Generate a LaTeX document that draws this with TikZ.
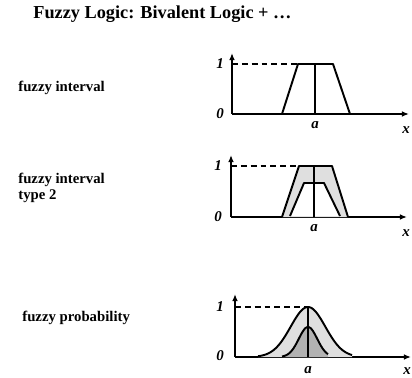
\documentclass[tikz,border=0pt]{standalone}
\usepackage{fontspec}
\setmainfont{Liberation Serif}
\usetikzlibrary{arrows.meta}

\begin{document}
\begin{tikzpicture}[
    x=0.02cm, y=-0.02cm,
    titel/.style={
        anchor=west,
        inner sep=0pt,
        font=\fontsize{10.4}{12}\selectfont\bfseries
    },
    etikett/.style={
        anchor=west,
        inner sep=0pt,
        align=left,
        font=\fontsize{8.4}{9.2}\selectfont\bfseries
    },
    wert/.style={
        inner sep=0pt,
        font=\fontsize{8.5}{9}\selectfont\bfseries\itshape
    },
    achse/.style={
        -{Latex[length=4pt,width=3.2pt]},
        line width=0.9pt
    },
    strich/.style={
        line width=0.8pt,
        dash pattern=on 3.4pt off 2.2pt
    },
    kurve/.style={
        line width=1.1pt,
        line join=round
    }
]
\useasboundingbox (0,0) rectangle (412,378);

\node[titel] (titel) at (33,14) {Fuzzy Logic: Bivalent Logic + \ldots};

% fuzzy interval
\node[etikett] (intervall) at (18,88) {fuzzy interval};
\coordinate (o1) at (232,114);
\draw[achse] (o1) -- (232,53);
\draw[achse] (o1) -- (409,114);
\draw[strich] (232,64) -- (298,64);
\draw[kurve] (282,114) -- (298,64) -- (333,64) -- (350,114);
\draw[kurve] (315,114) -- (315,64);
\node[wert] (eins1) at (220,64) {1};
\node[wert] (null1) at (220,114) {0};
\node[wert] (a1) at (315,125) {a};
\node[wert] (x1) at (406,130) {x};

% fuzzy interval type 2
\node[etikett] (typ2) at (18,188) {fuzzy interval\\type 2};
\coordinate (o2) at (231,217);
\draw[achse] (o2) -- (407,217);
\draw[achse] (o2) -- (231,155);
\draw[strich] (231,166) -- (299,166);
\fill[gray!25] (282,217) -- (299,166) -- (332,166) -- (348,217) -- cycle;
\fill[white] (290,216) -- (304,183) -- (324,183) -- (340,216) -- cycle;
\draw[kurve] (282,217) -- (299,166) -- (332,166) -- (348,217);
\draw[kurve] (290,216) -- (304,183) -- (324,183) -- (340,216);
\draw[kurve] (314,217) -- (314,166);
\node[wert] (eins2) at (218,166) {1};
\node[wert] (null2) at (218,217) {0};
\node[wert] (a2) at (314,228) {a};
\node[wert] (x2) at (406,233) {x};

% fuzzy probability
\node[etikett] (wahrsch) at (22,318) {fuzzy probability};
\coordinate (o3) at (235,357);
\draw[achse] (o3) -- (235,294);
\draw[achse] (o3) -- (411,357);
\draw[strich] (235,307) -- (308,307);
\fill[gray!25] (258,357) -- plot[domain=-50:44, samples=60, smooth]
    ({308+\x}, {357-50*exp(-(\x)*(\x)/600)}) -- (352,357) -- cycle;
\fill[gray!60] (282,357) -- plot[domain=-26:20, samples=40, smooth]
    ({308+\x}, {357-30*exp(-(\x)*(\x)/170)}) -- (328,357) -- cycle;
\draw[kurve] plot[domain=-50:44, samples=60, smooth]
    ({308+\x}, {357-50*exp(-(\x)*(\x)/600)});
\draw[kurve] plot[domain=-26:20, samples=40, smooth]
    ({308+\x}, {357-30*exp(-(\x)*(\x)/170)});
\draw[kurve] (308,357) -- (308,307);
\node[wert] (eins3) at (220,307) {1};
\node[wert] (null3) at (220,356) {0};
\node[wert] (a3) at (308,370) {a};
\node[wert] (x3) at (407,371) {x};
\end{tikzpicture}
\end{document}
